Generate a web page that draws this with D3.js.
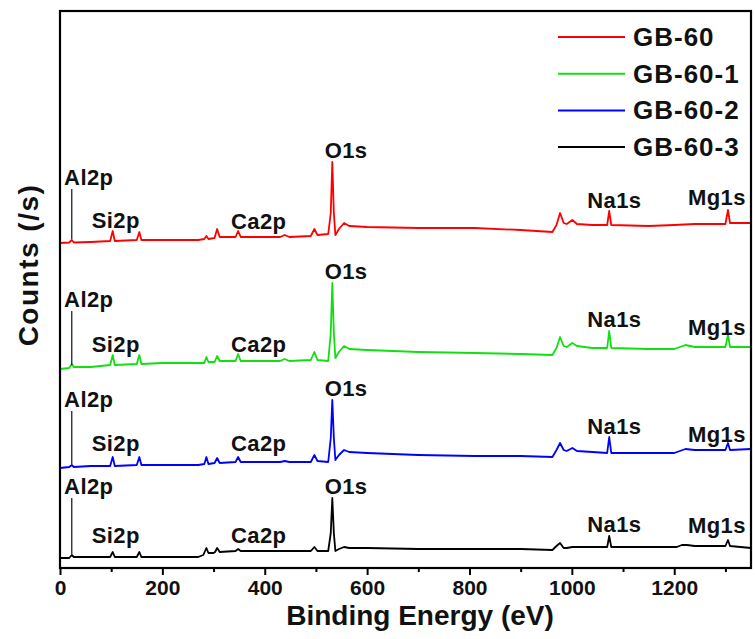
<!DOCTYPE html>
<html>
<head>
<meta charset="utf-8">
<script src="https://cdn.jsdelivr.net/npm/d3@7"></script>
<style>
  body { margin: 0; background: #fff; }
  svg { font-family: "Liberation Sans", Arial, sans-serif; font-weight: bold; }
</style>
</head>
<body>
<div id="chart"></div>
<script>
// series names / colours
var seriesNames = ["GB-60", "GB-60-1", "GB-60-2", "GB-60-3"];
var seriesColors = ["#ff0000", "#10e010", "#0000ff", "#000000"];
// vertical stacking offset of each spectrum (a.u.)
var seriesOffsets = [315, 190, 90, 0];

// binding energy (eV) / counts (a.u.)
var redSpectrum = [[0,10],[18,10.5],[23,13],[27,10.5],[60,11],[98,12],[103,22],[107,12],[150,13],[155,21],[159,13],
  [200,13],[270,13],[282,14],[286,17],[290,14],[302,15],[307,24],[312,16],[343,16],[348,22],[353,16],[430,16],[439,18],
  [448,16],[490,17],[497,24],[503,18],[524,19],[529,40],[532,91],[535,40],[538,18],[545,24],[555,30],[565,27],[600,26],
  [700,25],[810,25],[900,23],[962,21],[970,28],[977,40],[984,30],[990,29],[1001,33],[1010,29],[1040,28],[1069,28],
  [1073,42],[1077,28],[1150,27],[1200,28],[1240,29],[1300,29],[1305,43],[1309,30],[1350,30]];
var greenSpectrum = [[0,9],[18,10],[23,14],[27,11],[60,11],[98,13],[103,23],[107,13],[150,14],[155,23],[159,14],
  [200,15],[270,15],[282,15],[286,21],[290,16],[302,16],[307,22],[312,17],[343,17],[348,24],[353,17],[430,17],[439,19],
  [448,17],[490,18],[497,26],[503,18],[524,17],[529,45],[532,95],[535,45],[538,20],[545,26],[555,32],[565,29],[600,28],
  [700,26],[810,25],[900,24],[962,23],[970,30],[977,41],[984,32],[990,31],[1001,35],[1010,32],[1040,30],[1069,30],
  [1073,47],[1077,30],[1150,29],[1200,29],[1222,33],[1240,31],[1300,31],[1305,43],[1309,31],[1350,31]];
var blueSpectrum = [[0,10],[18,11],[23,13],[27,11],[60,12],[98,12],[103,21],[107,12],[150,13],[155,21],[159,13],
  [200,13],[270,13],[282,14],[286,21],[290,14],[302,15],[307,20],[312,15],[343,16],[348,21],[353,16],[430,16],[439,17],
  [448,16],[490,16],[497,23],[503,17],[524,16],[529,40],[532,78],[535,40],[538,18],[545,23],[555,28],[565,26],[600,25],
  [700,23],[810,22],[900,22],[962,21],[970,28],[977,35],[984,28],[990,27],[1001,30],[1010,27],[1040,26],[1069,25],
  [1073,41],[1077,25],[1150,25],[1200,25],[1222,29],[1240,28],[1300,28],[1305,35],[1309,28],[1350,29]];
var blackSpectrum = [[0,10],[18,10],[23,13],[27,11],[60,11],[98,11],[103,16],[107,11],[150,11],[155,16],[159,11],
  [200,11],[270,11],[280,13],[286,20],[290,15],[300,15],[303,16],[307,20],[312,16],[343,17],[348,19],[353,17],[430,17],
  [490,17],[497,21],[503,17],[524,17],[529,35],[532,70],[535,35],[538,17],[545,19],[555,21],[565,20],[600,20],
  [700,19],[810,19],[900,19],[962,18],[970,22],[977,25],[984,20],[990,20],[1001,21],[1010,21],[1040,21],[1069,21],
  [1073,32],[1077,21],[1150,21],[1205,21],[1215,23],[1225,23],[1240,22],[1300,22],[1305,28],[1309,22],[1350,20]];
var spectra = [redSpectrum, greenSpectrum, blueSpectrum, blackSpectrum];

// peak labels: name, energy where the label text starts
var peakNames = ["Al2p", "Si2p", "Ca2p", "O1s", "Na1s", "Mg1s"];
var peakLabelEnergy = [8, 62, 334, 517, 1030, 1227];
// label height above each spectrum's offset, per series
var peakLabelLevels = [
  [68, 25, 24, 95, 45, 48],
  [71, 26, 26, 99, 51, 43],
  [71, 27, 27, 82, 44, 36],
  [74, 25, 25, 74, 36, 35]
];
var al2pEnergy = 23;

var xTicks = [0, 200, 400, 600, 800, 1000, 1200];
var xMinorTicks = [100, 300, 500, 700, 900, 1100, 1300];

var W = 755, H = 639;
var margin = {top: 11, right: 4, bottom: 71, left: 60};
var width = W - margin.left - margin.right,
    height = H - margin.top - margin.bottom;

var svg = d3.select("#chart").append("svg")
    .attr("width", W).attr("height", H)
    .append("g").attr("transform", "translate(" + margin.left + "," + margin.top + ")");

var x = d3.scaleLinear().domain([0, 1350]).range([0, width]);
var y = d3.scaleLinear().domain([0, height]).range([height, 0]);

// spectra
var line = d3.line();
spectra.forEach(function(s, i) {
  var off = seriesOffsets[i];
  svg.append("path")
    .attr("d", line(s.map(function(d) { return [x(d[0]), y(d[1] + off)]; })))
    .attr("fill", "none")
    .attr("stroke", seriesColors[i])
    .attr("stroke-width", 1.8)
    .attr("stroke-linejoin", "round");
});

// peak labels + Al2p marker line
spectra.forEach(function(s, i) {
  var off = seriesOffsets[i];
  peakNames.forEach(function(name, j) {
    svg.append("text")
      .attr("x", x(peakLabelEnergy[j]))
      .attr("y", y(peakLabelLevels[i][j] + off))
      .attr("font-size", 22)
      .attr("letter-spacing", 0.4)
      .attr("fill", "#111")
      .text(name);
  });
  svg.append("line")
    .attr("x1", x(al2pEnergy)).attr("x2", x(al2pEnergy))
    .attr("y1", y(peakLabelLevels[i][0] + off) + 4)
    .attr("y2", y(s[0][1] + off + 4))
    .attr("stroke", "#111").attr("stroke-width", 1.2);
});

// x axis with outward ticks
var xAxis = svg.append("g").attr("transform", "translate(0," + height + ")")
  .call(d3.axisBottom(x).tickValues(xTicks).tickSize(7).tickPadding(5).tickFormat(d3.format("d")));
xAxis.select(".domain").remove();
xAxis.selectAll(".tick line").attr("stroke-width", 2);
xAxis.selectAll("text").attr("font-size", 21).attr("font-family", "Liberation Sans, Arial, sans-serif")
  .attr("font-weight", "bold").attr("fill", "#111");
svg.append("g").attr("transform", "translate(0," + height + ")")
  .call(d3.axisBottom(x).tickValues(xMinorTicks).tickSize(4).tickFormat(""))
  .call(function(g) { g.select(".domain").remove(); g.selectAll("line").attr("stroke-width", 2); });

// frame
svg.append("rect").attr("width", width).attr("height", height)
  .attr("fill", "none").attr("stroke", "#000").attr("stroke-width", 2.2);

// axis titles
svg.append("text")
  .attr("x", 360).attr("y", height + 57)
  .attr("text-anchor", "middle").attr("font-size", 28).attr("fill", "#111")
  .text("Binding Energy (eV)");
svg.append("text")
  .attr("transform", "translate(" + (-22) + "," + 254 + ") rotate(-90)")
  .attr("text-anchor", "middle").attr("font-size", 28).attr("letter-spacing", 1.5).attr("fill", "#111")
  .text("Counts (/s)");

// legend
var legend = svg.append("g").attr("transform", "translate(498,26)");
seriesNames.forEach(function(n, i) {
  var g = legend.append("g").attr("transform", "translate(0," + (i * 36.7) + ")");
  g.append("line").attr("x1", 0).attr("x2", 67).attr("stroke", seriesColors[i]).attr("stroke-width", 2);
  g.append("text").attr("x", 75).attr("y", 9).attr("font-size", 26).attr("letter-spacing", 1)
    .attr("fill", "#111").text(n);
});
</script>
</body>
</html>
